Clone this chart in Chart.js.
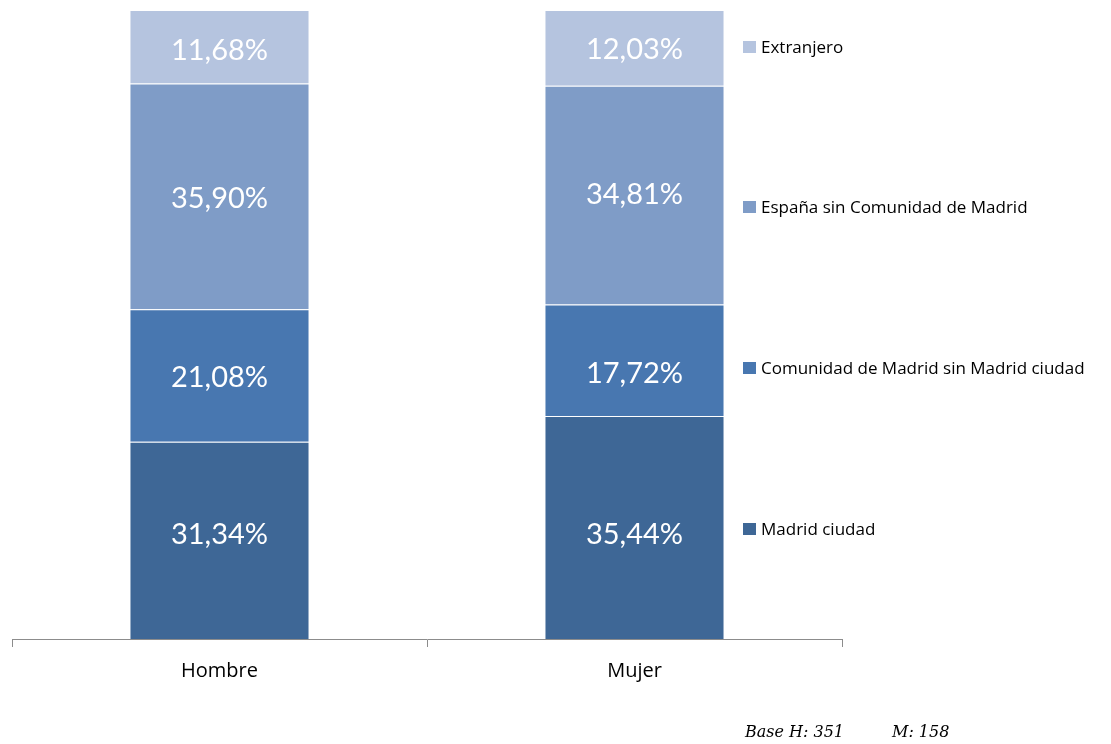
<!DOCTYPE html>
<html><head><meta charset="utf-8">
<script src="https://cdn.jsdelivr.net/npm/chart.js@4/dist/chart.umd.min.js"></script>
<style>html,body{margin:0;padding:0;background:#fff}#wrap{position:relative;width:1111px;height:744px}</style>
</head><body><div id="wrap"><canvas id="c" width="1111" height="744"></canvas></div>
<script>
const categories = ["Hombre", "Mujer"];
const madridCiudad = [31.34, 35.44];
const comunidadSinMadrid = [21.08, 17.72];
const espanaSinComunidad = [35.90, 34.81];
const extranjero = [11.68, 12.03];
const seriesNames = ["Madrid ciudad", "Comunidad de Madrid sin Madrid ciudad", "España sin Comunidad de Madrid", "Extranjero"];
const footnoteParts = ["Base H: 351", "M: 158"];

// styling
const colors = ["#3E6796", "#4877B0", "#7F9CC7", "#B5C4DF"];
const legendY = [529, 368, 207, 47];
const labelNudge = [[-7, 6], [1, 12], [1, -2], [3, 1]];
const FONT = "Lato, 'Open Sans', sans-serif";
const LFONT = "'Open Sans', sans-serif";

const labelsPlugin = {
  id: 'labels',
  afterDatasetsDraw(chart) {
    const ctx = chart.ctx;
    ctx.save();
    ctx.fillStyle = '#fff';
    ctx.font = "29px " + FONT;
    ctx.textAlign = 'center';
    ctx.textBaseline = 'middle';
    chart.data.datasets.forEach((ds, i) => {
      chart.getDatasetMeta(i).data.forEach((el, j) => {
        const cy = (el.y + el.base) / 2 + labelNudge[i][j];
        ctx.fillText(ds.data[j].toFixed(2).replace('.', ',') + '%', el.x, cy + 1);
      });
    });
    // legend
    ctx.font = "17px " + LFONT;
    ctx.textAlign = 'left';
    chart.data.datasets.forEach((ds, i) => {
      ctx.fillStyle = colors[i];
      ctx.fillRect(743, legendY[i] - 6, 13, 12);
      ctx.fillStyle = '#000';
      ctx.fillText(ds.label, 761, legendY[i] + 1);
    });
    // footnote
    ctx.font = "italic 16px 'DejaVu Serif', serif";
    ctx.fillText(footnoteParts[0], 745, 733);
    ctx.fillText(footnoteParts[1], 892, 733);
    ctx.restore();
  }
};

const seriesData = [madridCiudad, comunidadSinMadrid, espanaSinComunidad, extranjero];
new Chart(document.getElementById('c'), {
  type: 'bar',
  data: {
    labels: categories,
    datasets: seriesData.map((d, i) => ({
      label: seriesNames[i],
      data: d,
      backgroundColor: colors[i],
      borderColor: 'rgba(255,255,255,0.3)',
      borderWidth: {top: 1, bottom: 0, left: 0, right: 0},
      borderSkipped: false,
      categoryPercentage: 1,
      barPercentage: 0.43
    }))
  },
  options: {
    responsive: false,
    animation: false,
    devicePixelRatio: 1,
    layout: { padding: { left: 12, right: 269, top: 10, bottom: 0 } },
    plugins: { legend: { display: false }, tooltip: { enabled: false } },
    scales: {
      x: {
        stacked: true,
        afterFit(s) { s.height = 105; },
        grid: { drawOnChartArea: false, drawTicks: true, tickLength: 8, color: '#8c8c8c', offset: true },
        border: { color: '#8c8c8c', width: 1 },
        ticks: { color: '#000', font: { family: LFONT, size: 20 }, padding: 12 }
      },
      y: {
        stacked: true, display: false, min: 0, max: 100
      }
    }
  },
  plugins: [labelsPlugin]
});
</script></body></html>
